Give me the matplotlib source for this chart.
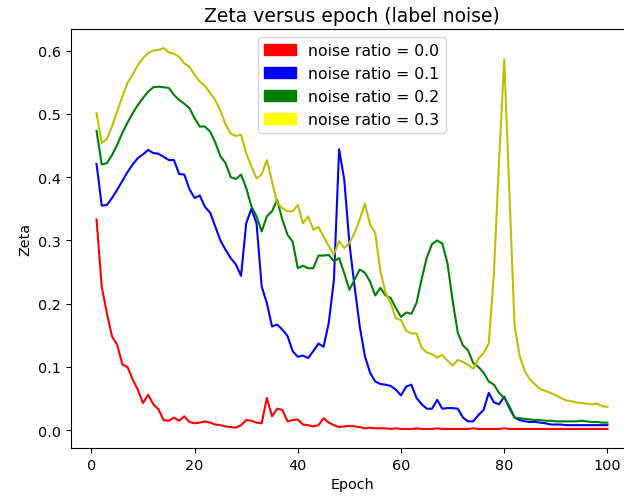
import matplotlib
matplotlib.use("Agg")
import matplotlib.pyplot as plt
import matplotlib.patches as mpatches

epochs = list(range(1, 101))

zeta_00 = [0.333, 0.227, 0.185, 0.148, 0.135, 0.104, 0.100, 0.080, 0.064, 0.043,
           0.056, 0.041, 0.033, 0.016, 0.015, 0.020, 0.015, 0.022, 0.013, 0.011,
           0.012, 0.014, 0.012, 0.009, 0.008, 0.006, 0.005, 0.004, 0.008, 0.016,
           0.015, 0.012, 0.011, 0.051, 0.022, 0.034, 0.032, 0.014, 0.016, 0.017,
           0.009, 0.008, 0.006, 0.008, 0.019, 0.012, 0.008, 0.005, 0.006, 0.007,
           0.006, 0.005, 0.003, 0.004, 0.003, 0.003, 0.003, 0.002, 0.003, 0.002,
           0.002, 0.002, 0.003, 0.002, 0.002, 0.002, 0.003, 0.002, 0.002, 0.002,
           0.002, 0.002, 0.002, 0.003, 0.002, 0.002, 0.002, 0.002, 0.002, 0.003,
           0.002, 0.002, 0.002, 0.002, 0.002, 0.002, 0.002, 0.002, 0.002, 0.002,
           0.002, 0.002, 0.002, 0.002, 0.002, 0.002, 0.002, 0.002, 0.002, 0.002]

zeta_01 = [0.421, 0.355, 0.356, 0.367, 0.380, 0.394, 0.408, 0.420, 0.430, 0.436,
           0.443, 0.438, 0.437, 0.432, 0.427, 0.427, 0.405, 0.404, 0.381, 0.367,
           0.371, 0.353, 0.344, 0.322, 0.300, 0.285, 0.272, 0.262, 0.244, 0.327,
           0.350, 0.327, 0.227, 0.201, 0.164, 0.167, 0.159, 0.149, 0.125, 0.116,
           0.118, 0.114, 0.125, 0.137, 0.132, 0.170, 0.238, 0.444, 0.396, 0.295,
           0.227, 0.164, 0.117, 0.091, 0.077, 0.073, 0.072, 0.070, 0.064, 0.055,
           0.069, 0.072, 0.051, 0.041, 0.034, 0.034, 0.048, 0.034, 0.035, 0.035,
           0.034, 0.020, 0.014, 0.014, 0.024, 0.032, 0.059, 0.044, 0.041, 0.053,
           0.035, 0.020, 0.016, 0.014, 0.013, 0.013, 0.012, 0.011, 0.009, 0.009,
           0.009, 0.008, 0.008, 0.008, 0.008, 0.008, 0.008, 0.008, 0.008, 0.008]

zeta_02 = [0.473, 0.420, 0.422, 0.435, 0.451, 0.470, 0.486, 0.501, 0.514, 0.525,
           0.535, 0.542, 0.543, 0.542, 0.541, 0.530, 0.522, 0.516, 0.509, 0.493,
           0.480, 0.480, 0.472, 0.455, 0.433, 0.422, 0.400, 0.397, 0.404, 0.383,
           0.354, 0.338, 0.314, 0.338, 0.346, 0.364, 0.333, 0.309, 0.298, 0.256,
           0.260, 0.256, 0.256, 0.276, 0.276, 0.277, 0.267, 0.272, 0.248, 0.222,
           0.238, 0.254, 0.249, 0.235, 0.213, 0.225, 0.213, 0.209, 0.193, 0.179,
           0.186, 0.184, 0.201, 0.239, 0.273, 0.294, 0.300, 0.295, 0.264, 0.205,
           0.154, 0.134, 0.126, 0.106, 0.100, 0.091, 0.077, 0.072, 0.059, 0.051,
           0.038, 0.020, 0.019, 0.018, 0.017, 0.016, 0.016, 0.015, 0.015, 0.014,
           0.014, 0.014, 0.014, 0.014, 0.015, 0.014, 0.013, 0.013, 0.012, 0.012]

zeta_03 = [0.501, 0.454, 0.460, 0.480, 0.504, 0.527, 0.549, 0.562, 0.577, 0.588,
           0.596, 0.600, 0.601, 0.604, 0.597, 0.595, 0.590, 0.580, 0.574, 0.562,
           0.551, 0.544, 0.533, 0.522, 0.505, 0.483, 0.469, 0.465, 0.467, 0.438,
           0.417, 0.398, 0.404, 0.427, 0.393, 0.359, 0.351, 0.346, 0.346, 0.356,
           0.327, 0.338, 0.317, 0.321, 0.306, 0.291, 0.278, 0.299, 0.288, 0.296,
           0.312, 0.333, 0.358, 0.325, 0.312, 0.251, 0.217, 0.201, 0.177, 0.174,
           0.157, 0.153, 0.153, 0.130, 0.123, 0.120, 0.115, 0.119, 0.110, 0.102,
           0.111, 0.108, 0.103, 0.097, 0.113, 0.122, 0.137, 0.249, 0.427, 0.586,
           0.375, 0.165, 0.117, 0.093, 0.080, 0.072, 0.065, 0.062, 0.059, 0.055,
           0.051, 0.047, 0.046, 0.044, 0.043, 0.042, 0.041, 0.042, 0.038, 0.037]

series = [zeta_00, zeta_01, zeta_02, zeta_03]
line_colors = ["r", "b", "g", "y"]
patch_colors = ["red", "blue", "green", "yellow"]
labels = ["noise ratio = 0.0", "noise ratio = 0.1",
          "noise ratio = 0.2", "noise ratio = 0.3"]

fig = plt.figure(figsize=(6.24, 5.02), dpi=100)
# axes run past the right edge, as in the cropped original
ax = fig.add_axes([71 / 624, 53 / 502, 562 / 624, 419 / 502])

for values, c in zip(series, line_colors):
    ax.plot(epochs, values, color=c, linewidth=1.5)

handles = [mpatches.Patch(color=c, label=l) for c, l in zip(patch_colors, labels)]
ax.legend(handles=handles, loc="upper center", fontsize=11.3)

ax.set_title("Zeta versus epoch (label noise)", fontsize=13.5)
ax.set_xlabel("Epoch", fontsize=10.4)
ax.set_ylabel("Zeta", fontsize=10.4)
ax.tick_params(labelsize=10.4)

fig.savefig("out.png", dpi=100)
